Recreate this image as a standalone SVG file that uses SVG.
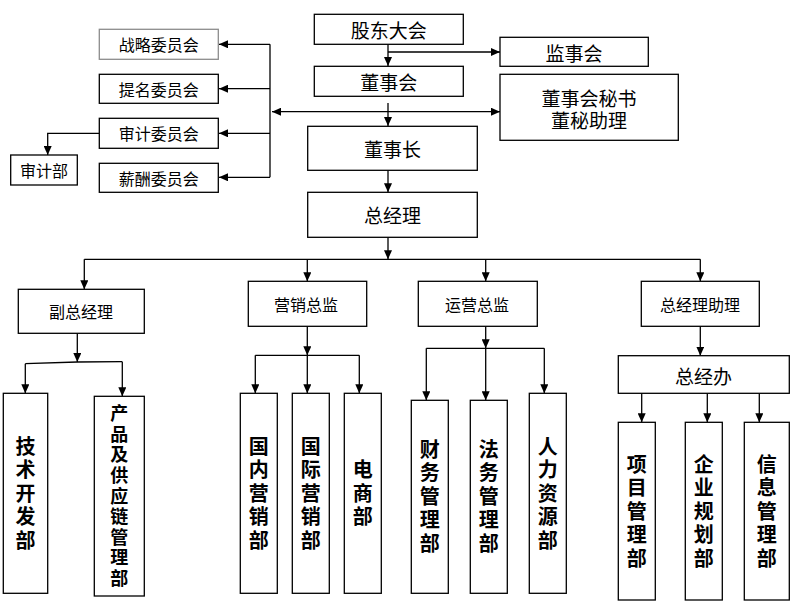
<svg xmlns="http://www.w3.org/2000/svg" width="795" height="605" viewBox="0 0 795 605">
<style>
.box{fill:#fff;stroke:#000;stroke-width:1.3}
.gbox{fill:#fff;stroke:#8c8c8c;stroke-width:1.3}
.ln{fill:none;stroke:#000;stroke-width:1.3}
.arr{fill:none;stroke:#000;stroke-width:1.3;marker-end:url(#ah)}
text{font-family:"Noto Sans CJK SC","Noto Sans CJK JP",sans-serif;fill:#000;text-anchor:middle;dominant-baseline:central}
.t19{font-size:19px}
.t16{font-size:16px}
.v{font-size:20px;font-weight:bold;writing-mode:vertical-rl;text-orientation:upright;letter-spacing:3.6px}
.v18{font-size:18px;font-weight:bold;writing-mode:vertical-rl;text-orientation:upright;letter-spacing:2.6px}
</style>
<defs>
<marker id="ah" markerUnits="userSpaceOnUse" markerWidth="9" markerHeight="8" refX="9" refY="4" orient="auto">
<path d="M0,0 L9,4 L0,8 z" fill="#000"/>
</marker>
</defs>
<g id="connectors">
<path class="arr" d="M388,44 V66"/>
<path class="arr" d="M388,52 H500"/>
<path class="arr" d="M388,103 V126"/>
<path class="arr" d="M388,111.7 H500"/>
<path class="arr" d="M388,111.7 H272"/>
<path class="ln" d="M270,44.3 V177.3"/>
<path class="arr" d="M270,44.3 H219"/>
<path class="arr" d="M270,88.7 H219"/>
<path class="arr" d="M270,133.3 H219"/>
<path class="arr" d="M270,177.3 H219"/>
<path class="arr" d="M99,133.3 H47.7 V155"/>
<path class="arr" d="M388,170.3 V192.3"/>
<path class="arr" d="M388,237.3 V259.3"/>
<path class="ln" d="M84.3,259.3 H700.3"/>
<path class="arr" d="M84.3,259.3 V289.3"/>
<path class="arr" d="M307.3,259.3 V281.3"/>
<path class="arr" d="M485.7,259.3 V281.3"/>
<path class="arr" d="M700.3,259.3 V281.3"/>
<path class="arr" d="M77.3,333.3 V362"/>
<path class="ln" d="M25.3,363.7 L77.3,362 L122.3,361.7" stroke="#555"/>
<path class="arr" d="M25.3,363.7 V393.3"/>
<path class="arr" d="M122.3,361.7 V396.3"/>
<path class="arr" d="M307.3,326.3 V355.3"/>
<path class="ln" d="M255.3,355.3 H359.3"/>
<path class="arr" d="M255.3,355.3 V393.3"/>
<path class="arr" d="M307.3,355.3 V393.3"/>
<path class="arr" d="M359.3,355.3 V393.3"/>
<path class="arr" d="M485.7,326.3 V348.3"/>
<path class="ln" d="M426.3,348.3 H544.3"/>
<path class="arr" d="M426.3,348.3 V400.3"/>
<path class="arr" d="M485.7,348.3 V400.3"/>
<path class="arr" d="M544.3,348.3 V393.3"/>
<path class="arr" d="M700.3,326.3 V355.7"/>
<path class="arr" d="M641.7,393.3 V422.3"/>
<path class="arr" d="M707.3,393.3 V422.3"/>
<path class="arr" d="M759.3,393.3 V422.3"/>
</g>
<g id="gudong"><rect class="box" x="314.3" y="14.3" width="149" height="30"/><text class="t19" x="388.8" y="29.3">股东大会</text></g>
<g id="jianshi"><rect class="box" x="500" y="37.3" width="148.3" height="29"/><text class="t19" x="574" y="52">监事会</text></g>
<g id="dongshihui"><rect class="box" x="314.3" y="66.3" width="149" height="30"/><text class="t19" x="388.8" y="81.3">董事会</text></g>
<g id="mishu"><rect class="box" x="500" y="74.3" width="178.3" height="66"/><text class="t19"><tspan x="589" y="96.5">董事会秘书</tspan><tspan x="589" y="119.2">董秘助理</tspan></text></g>
<g id="dongshizhang"><rect class="box" x="307.7" y="126.3" width="169.6" height="44"/><text class="t19" x="392.5" y="148.3">董事长</text></g>
<g id="zongjingli"><rect class="box" x="307.7" y="192.3" width="169.6" height="45"/><text class="t19" x="392.5" y="214.8">总经理</text></g>
<g id="zhanlue"><rect class="gbox" x="99.3" y="29.3" width="119" height="30"/><text class="t16" x="158.8" y="44.3">战略委员会</text></g>
<g id="timing"><rect class="box" x="99.3" y="74.3" width="119" height="29"/><text class="t16" x="158.8" y="88.8">提名委员会</text></g>
<g id="shenji"><rect class="box" x="99.3" y="118.3" width="119" height="30"/><text class="t16" x="158.8" y="133.3">审计委员会</text></g>
<g id="xinchou"><rect class="box" x="99.3" y="163.3" width="119" height="29"/><text class="t16" x="158.8" y="177.8">薪酬委员会</text></g>
<g id="shenjibu"><rect class="box" x="10.7" y="155" width="66.6" height="30"/><text class="t16" x="44" y="170">审计部</text></g>
<g id="fuzong"><rect class="box" x="18.3" y="289.3" width="126" height="44"/><text class="t16" x="81" y="311">副总经理</text></g>
<g id="yingxiao"><rect class="box" x="248.3" y="281.3" width="118.4" height="45"/><text class="t16" x="306" y="303.5">营销总监</text></g>
<g id="yunying"><rect class="box" x="418.3" y="281.3" width="119" height="45"/><text class="t16" x="477" y="303.5">运营总监</text></g>
<g id="zhuli"><rect class="box" x="641.3" y="281.3" width="118" height="45"/><text class="t16" x="700" y="303.5">总经理助理</text></g>
<g id="zongjingban"><rect class="box" x="618.3" y="355.7" width="171" height="37.6"/><text class="t19" x="703.5" y="375">总经办</text></g>
<g id="jishu"><rect class="box" x="3.3" y="393.3" width="44.4" height="200"/><text class="v" x="25.5" y="495">技术开发部</text></g>
<g id="chanpin"><rect class="box" x="94.3" y="396.3" width="50" height="199.7"/><text class="v18" x="119.3" y="497">产品及供应链管理部</text></g>
<g id="guonei"><rect class="box" x="240.3" y="393.3" width="37" height="200"/><text class="v" x="258.8" y="495">国内营销部</text></g>
<g id="guoji"><rect class="box" x="292.3" y="393.3" width="37" height="200"/><text class="v" x="310.8" y="495">国际营销部</text></g>
<g id="dianshang"><rect class="box" x="344.3" y="393.3" width="37" height="200"/><text class="v" x="362.8" y="495">电商部</text></g>
<g id="caiwu"><rect class="box" x="411.3" y="400.3" width="37" height="193"/><text class="v" x="429.8" y="498">财务管理部</text></g>
<g id="fawu"><rect class="box" x="470.3" y="400.3" width="37" height="193"/><text class="v" x="488.8" y="498">法务管理部</text></g>
<g id="renli"><rect class="box" x="529.3" y="393.3" width="37" height="200"/><text class="v" x="547.8" y="495">人力资源部</text></g>
<g id="xiangmu"><rect class="box" x="618.3" y="422.3" width="37" height="177.7"/><text class="v" x="636.8" y="513">项目管理部</text></g>
<g id="qiye"><rect class="box" x="685.3" y="422.3" width="37" height="177.7"/><text class="v" x="703.8" y="513">企业规划部</text></g>
<g id="xinxi"><rect class="box" x="744.3" y="422.3" width="45" height="177.7"/><text class="v" x="766.8" y="513">信息管理部</text></g>
</svg>
